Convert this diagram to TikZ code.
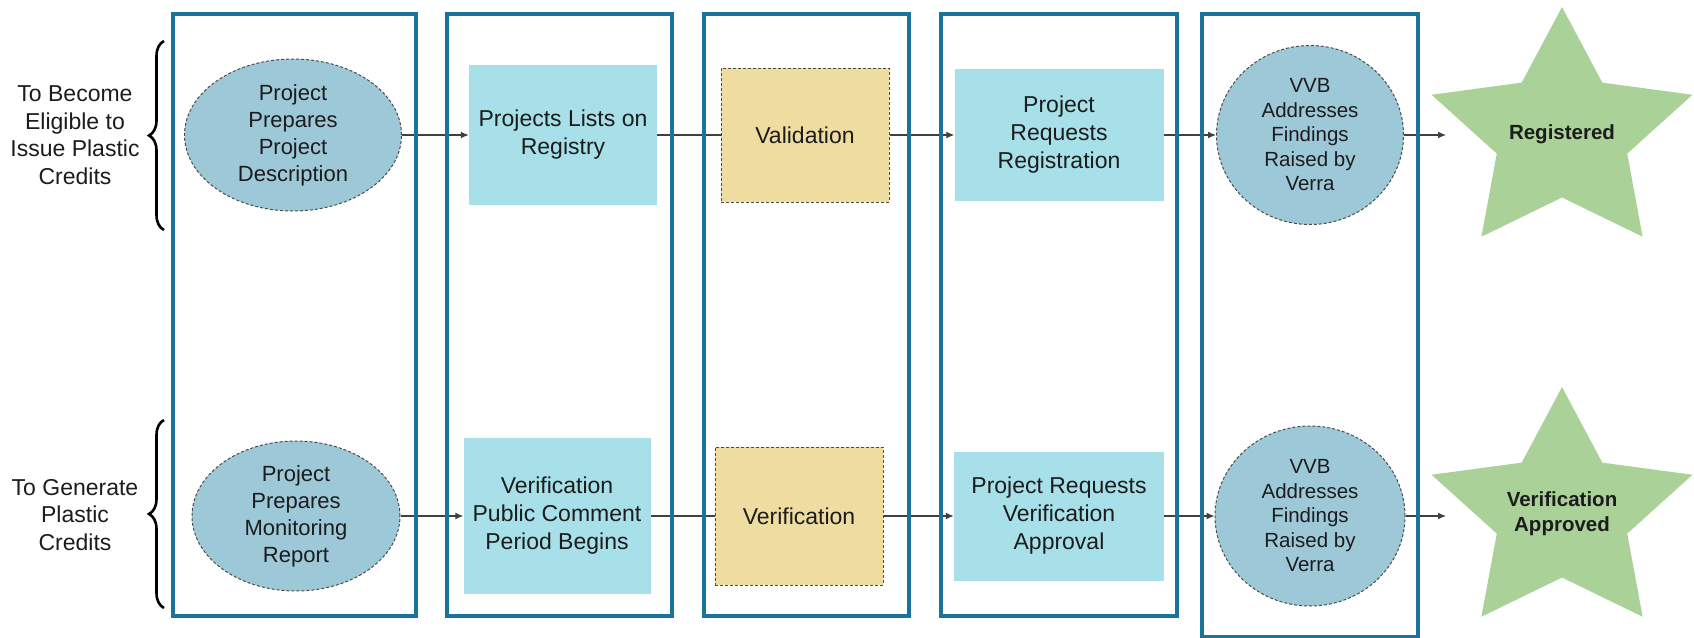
\documentclass[tikz,border=0pt]{standalone}
\usepackage{fontspec}
\setmainfont{Liberation Sans}
\usetikzlibrary{shapes.geometric,arrows.meta,decorations.pathreplacing}

\definecolor{lanecol}{RGB}{25,115,155}
\definecolor{stepcol}{RGB}{167,224,232}
\definecolor{checkcol}{RGB}{238,220,160}
\definecolor{ovalcol}{RGB}{157,200,216}
\definecolor{starcol}{RGB}{170,210,152}
\definecolor{inkcol}{RGB}{28,28,28}

\begin{document}
\begin{tikzpicture}[x = 1pt, y = -1pt,
	every node/.style = {text = inkcol, align = center, inner sep = 0pt},
	lane/.style = {draw = lanecol, line width = 3.5pt},
	stepbox/.style = {rectangle, fill = stepcol, font = \fontsize{23}{28}\selectfont},
	checkbox/.style = {rectangle, fill = checkcol, draw = black!70, line width = 1pt,
		dash pattern = on 3pt off 2pt, font = \fontsize{23}{28}\selectfont},
	oval/.style = {ellipse, fill = ovalcol, draw = black!70, line width = 1pt,
		dash pattern = on 3pt off 2pt},
	goal/.style = {star, star points = 5, star point ratio = 2, minimum size = 254pt,
		fill = starcol, xscale = 1.08},
	goaltext/.style = {font = \bfseries\fontsize{20.5}{25}\selectfont},
	flow/.style = {draw = black!75, line width = 1.2pt, -{Latex[length = 8pt, width = 7pt]}},
	link/.style = {draw = black!75, line width = 1.2pt},
	sidetext/.style = {font = \fontsize{23}{27.5}\selectfont}]
	\useasboundingbox (0,0) rectangle (1694,637);

	% row labels and braces
	\node [sidetext] (eligible) at (75,135) {To Become\\Eligible to\\Issue Plastic\\Credits};
	\node [sidetext] (generate) at (75,515) {To Generate\\Plastic\\Credits};
	\draw [line width = 2.6pt, decorate, decoration = {brace, amplitude = 15pt}] (164,230) -- (164,41);
	\draw [line width = 2.6pt, decorate, decoration = {brace, amplitude = 15pt}] (164,608) -- (164,420);

	% registration row
	\node [oval, minimum width = 217pt, minimum height = 152pt, font = \fontsize{22}{27}\selectfont]
		(pd) at (293,135) {Project\\Prepares\\Project\\Description};
	\node [stepbox, minimum width = 188pt, minimum height = 140pt] (list) at (563,135) {Projects Lists on\\Registry};
	\node [checkbox, minimum width = 168pt, minimum height = 134pt] (valid) at (805,135) {Validation};
	\node [stepbox, minimum width = 209pt, minimum height = 132pt] (reqreg) at (1059,135) {Project\\Requests\\Registration};
	\node [oval, minimum width = 187pt, minimum height = 179pt, font = \fontsize{20.5}{24.5}\selectfont]
		(vvbreg) at (1310,135) {VVB\\Addresses\\Findings\\Raised by\\Verra};
	\node [goal, label = {[goaltext]center:Registered}] (registered) at (1562,134) {};
	\coordinate (toreg) at (1446,135);

	% issuance row
	\node [oval, minimum width = 208pt, minimum height = 150pt, font = \fontsize{22}{27}\selectfont]
		(mr) at (296,516) {Project\\Prepares\\Monitoring\\Report};
	\node [stepbox, minimum width = 187pt, minimum height = 156pt] (comment) at (557,516) {Verification\\Public Comment\\Period Begins};
	\node [checkbox, minimum width = 168pt, minimum height = 138pt] (verif) at (799,516) {Verification};
	\node [stepbox, minimum width = 210pt, minimum height = 129pt] (reqver) at (1059,516) {Project Requests\\Verification\\Approval};
	\node [oval, minimum width = 190pt, minimum height = 180pt, font = \fontsize{20.5}{24.5}\selectfont]
		(vvbver) at (1310,516) {VVB\\Addresses\\Findings\\Raised by\\Verra};
	\node [goal, label = {[goaltext]center:Verification\\Approved}] (approved) at (1562,514) {};
	\coordinate (toapp) at (1446,516);

	% connectors
	\draw [flow] (pd) -- (list);
	\draw [link] (list) -- (valid);
	\draw [flow] (valid) -- (reqreg);
	\draw [flow] (reqreg) -- (vvbreg);
	\draw [flow] (vvbreg) -- (toreg);
	\draw [flow] (mr) -- (comment);
	\draw [link] (comment) -- (verif);
	\draw [flow] (verif) -- (reqver);
	\draw [flow] (reqver) -- (vvbver);
	\draw [flow] (vvbver) -- (toapp);

	% stage frames
	\foreach \l/\r/\b in {173/416/616, 447/672/616, 704/909/616, 941/1177/616, 1202/1418/637}{
	\draw [lane] (\l,14) rectangle (\r,\b);
	}
\end{tikzpicture}
\end{document}
